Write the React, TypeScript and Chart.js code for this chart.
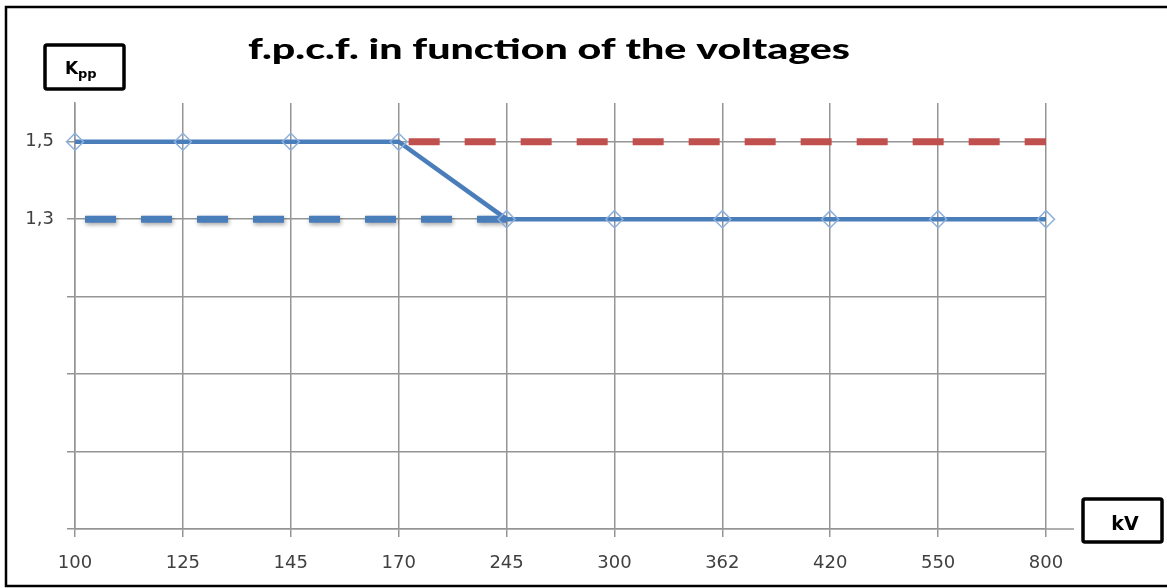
import React, { useEffect, useRef } from 'react';
import { Chart, registerables } from 'chart.js';

Chart.register(...registerables);

// ---- data ----
const categories = ['100', '125', '145', '170', '245', '300', '362', '420', '550', '800'];
const kppCurve = [1.5, 1.5, 1.5, 1.5, 1.3, 1.3, 1.3, 1.3, 1.3, 1.3];
const lowLevel = [1.3, 1.3, 1.3, 1.3, 1.3, null, null, null, null, null];
const highLevel = [null, null, null, 1.5, 1.5, 1.5, 1.5, 1.5, 1.5, 1.5];
const yGridValues = [0.5, 0.7, 0.9, 1.1, 1.3, 1.5];
const yLabelledValues = [1.3, 1.5];
const yMin = 0.5;
const yMax = 1.6;
const titleText = 'f.p.c.f. in function of the voltages';
const yUnitMain = 'K';
const yUnitSub = 'pp';
const xUnit = 'kV';

const GRID = '#959595';
const BLUE = '#4A7EBB';
const RED = '#C0504D';

const shadowPlugin = {
  id: 'dashShadow',
  beforeDatasetDraw(chart: any, args: any) {
    if (args.index === 1) {
      const ctx = chart.ctx;
      ctx.save();
      ctx.shadowColor = 'rgba(0,0,0,0.35)';
      ctx.shadowBlur = 4;
      ctx.shadowOffsetY = 2;
      ctx.shadowOffsetX = 1;
    }
  },
  afterDatasetDraw(chart: any, args: any) {
    if (args.index === 1) chart.ctx.restore();
  },
};

const decorPlugin = {
  id: 'decor',
  beforeDraw(chart: any) {
    const ctx = chart.ctx;
    ctx.save();
    ctx.fillStyle = '#ffffff';
    ctx.fillRect(0, 0, chart.width, chart.height);
    ctx.restore();
  },
  afterDraw(chart: any) {
    const ctx = chart.ctx;
    const area = chart.chartArea;
    ctx.save();
    // outer frame
    ctx.strokeStyle = '#000';
    ctx.lineWidth = 2.5;
    ctx.strokeRect(6, 7, 1220, 579);

    // axis extension to the right
    ctx.strokeStyle = GRID;
    ctx.lineWidth = 1.5;
    ctx.beginPath();
    ctx.moveTo(area.right, area.bottom);
    ctx.lineTo(area.right + 28, area.bottom);
    ctx.stroke();

    // title
    ctx.fillStyle = '#000';
    ctx.font = '900 29px Lato';
    ctx.textBaseline = 'alphabetic';
    ctx.textAlign = 'left';
    const w = ctx.measureText(titleText).width;
    const sx = 602 / w;
    ctx.save();
    ctx.translate(248, 59);
    ctx.scale(sx, 1);
    ctx.fillText(titleText, 0, 0);
    ctx.restore();

    // Kpp box
    ctx.strokeStyle = '#000';
    ctx.lineWidth = 3.5;
    ctx.beginPath();
    (ctx as any).roundRect ? (ctx as any).roundRect(45, 45, 79, 44, 2) : ctx.rect(45, 45, 79, 44);
    ctx.stroke();
    ctx.fillStyle = '#000';
    ctx.font = 'bold 17px "DejaVu Sans"';
    ctx.fillText(yUnitMain, 65, 74);
    ctx.font = 'bold 13px "DejaVu Sans"';
    ctx.fillText(yUnitSub, 78, 78);

    // kV box
    ctx.beginPath();
    (ctx as any).roundRect ? (ctx as any).roundRect(1083, 499, 79, 43, 2) : ctx.rect(1083, 499, 79, 43);
    ctx.stroke();
    ctx.font = 'bold 19px "DejaVu Sans"';
    ctx.textAlign = 'center';
    ctx.fillText(xUnit, 1125, 530);
    ctx.restore();
  },
};

export default function App() {
  const ref = useRef<HTMLCanvasElement | null>(null);

  useEffect(() => {
    if (!ref.current) return;
    const chart = new Chart(ref.current, {
      type: 'line',
      data: {
        labels: categories,
        datasets: [
          {
            label: 'Kpp',
            data: kppCurve,
            borderColor: BLUE,
            borderWidth: 4.5,
            tension: 0,
            pointStyle: 'rectRot',
            pointRadius: 8.5,
            pointBorderWidth: 1.5,
            pointBorderColor: '#8DB0DC',
            pointBackgroundColor: 'rgba(0,0,0,0)',
            clip: false,
          },
          {
            label: 'low',
            data: lowLevel,
            borderColor: BLUE,
            borderWidth: 7,
            borderDash: [31, 25],
            borderDashOffset: 46,
            borderCapStyle: 'butt',
            pointRadius: 0,
            tension: 0,
            clip: false,
          },
          {
            label: 'high',
            data: highLevel,
            borderColor: RED,
            borderWidth: 7,
            borderDash: [31, 25],
            borderDashOffset: 46,
            borderCapStyle: 'butt',
            pointRadius: 0,
            tension: 0,
            clip: false,
          },
        ],
      },
      options: {
        animation: false,
        responsive: false,
        maintainAspectRatio: false,
        layout: { padding: { left: 0, top: 103, right: 121, bottom: 0 } },
        plugins: {
          legend: { display: false },
          title: { display: false },
          tooltip: { enabled: false },
        },
        scales: {
          x: {
            type: 'category',
            offset: false,
            grid: { color: GRID, lineWidth: 1.5, tickLength: 8, drawTicks: true },
            border: { display: true, color: GRID, width: 1.5 },
            ticks: {
              font: { family: '"DejaVu Sans"', size: 18 },
              color: '#404040',
              padding: 16,
              maxRotation: 0,
              autoSkip: false,
            },
            afterFit(scale: any) {
              scale.height = 59;
            },
          },
          y: {
            type: 'linear',
            min: yMin,
            max: yMax,
            grid: { color: GRID, lineWidth: 1.5, tickLength: 8, drawTicks: true },
            border: { display: true, color: GRID, width: 1.5 },
            afterBuildTicks(scale: any) {
              scale.ticks = yGridValues.map((v) => ({ value: v }));
            },
            ticks: {
              font: { family: '"DejaVu Sans"', size: 18 },
              color: '#404040',
              padding: 13,
              callback: (v: any) =>
                yLabelledValues.some((l) => Math.abs(l - Number(v)) < 1e-6)
                  ? Number(v).toFixed(1).replace('.', ',')
                  : '',
            },
            afterFit(scale: any) {
              scale.width = 75;
            },
          },
        },
      },
      plugins: [decorPlugin, shadowPlugin],
    } as any);
    return () => chart.destroy();
  }, []);

  return (
    <div style={{ position: 'fixed', left: 0, top: 0, width: 1167, height: 588, background: '#fff' }}>
      <canvas ref={ref} width={1167} height={588} style={{ display: 'block', width: 1167, height: 588 }} />
    </div>
  );
}
